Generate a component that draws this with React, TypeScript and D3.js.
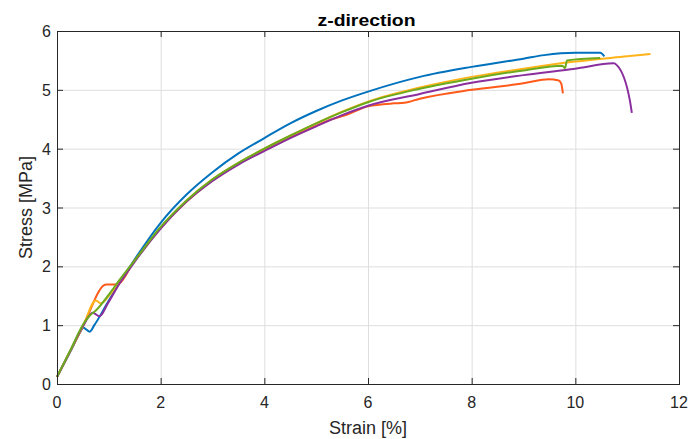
import React from 'react';
import * as d3 from 'd3';

// strain [%], stress [MPa]
const blue: [number, number][] = [
  [0, 0.12], [0.25, 0.54], [0.46, 0.9], [0.5, 0.96], [0.63, 0.89], [0.72, 1.0], [1.0, 1.42],
  [1.5, 2.12], [2.0, 2.74], [2.5, 3.22], [3.0, 3.6], [3.5, 3.92], [4.0, 4.18], [4.5, 4.43],
  [5.0, 4.64], [5.5, 4.82], [6.0, 4.97], [7.0, 5.22], [8.0, 5.39], [9.0, 5.53], [9.4, 5.59],
  [10.0, 5.63], [10.48, 5.63], [10.56, 5.57],
];
const red: [number, number][] = [
  [0, 0.12], [0.25, 0.55], [0.5, 0.98], [0.95, 1.69], [1.15, 1.69], [1.5, 2.1], [2.0, 2.65],
  [2.5, 3.1], [3.0, 3.46], [3.5, 3.74], [4.0, 3.97], [4.5, 4.19], [5.0, 4.39], [5.3, 4.5],
  [5.6, 4.58], [6.0, 4.72], [6.5, 4.77], [6.7, 4.78], [7.0, 4.85], [8.0, 5.0], [9.0, 5.11],
  [9.49, 5.18], [9.68, 5.16], [9.73, 5.1], [9.76, 4.94],
];
const yellow: [number, number][] = [
  [0, 0.12], [0.25, 0.55], [0.5, 0.98], [0.75, 1.42], [0.85, 1.37], [1.0, 1.5], [1.2, 1.74],
  [1.5, 2.09], [2.0, 2.66], [2.5, 3.12], [3.0, 3.48], [3.5, 3.76], [4.0, 4.0], [4.5, 4.22],
  [5.0, 4.43], [5.5, 4.63], [6.0, 4.8], [7.0, 5.04], [8.0, 5.22], [9.0, 5.36], [10.0, 5.48],
  [11.0, 5.57], [11.45, 5.61],
];
const purple: [number, number][] = [
  [0, 0.12], [0.25, 0.55], [0.5, 0.98], [0.69, 1.21], [0.82, 1.15], [0.98, 1.37], [1.2, 1.7],
  [1.5, 2.08], [2.0, 2.64], [2.5, 3.1], [3.0, 3.45], [3.5, 3.73], [4.0, 3.96], [4.5, 4.18],
  [5.0, 4.38], [5.5, 4.57], [6.0, 4.73], [7.0, 4.93], [8.0, 5.12], [9.0, 5.25], [10.0, 5.36],
  [10.74, 5.45], [10.8, 5.42], [11.05, 4.83], [11.09, 4.61],
];
const green: [number, number][] = [
  [0, 0.12], [0.25, 0.56], [0.53, 1.05], [0.63, 1.16], [0.75, 1.25], [1.0, 1.52], [1.2, 1.76],
  [1.5, 2.1], [2.0, 2.67], [2.5, 3.12], [3.0, 3.48], [3.5, 3.76], [4.0, 4.0], [4.5, 4.22],
  [5.0, 4.43], [5.5, 4.62], [6.0, 4.79], [7.0, 5.02], [8.0, 5.19], [9.0, 5.33], [9.75, 5.41],
  [9.8, 5.37], [9.84, 5.5], [10.48, 5.54],
];

const series = [
  { data: blue, color: '#0072BD' },
  { data: red, color: '#FF5A1A' },
  { data: yellow, color: '#FFB319' },
  { data: purple, color: '#8B2F9E' },
  { data: green, color: '#6BAA1E' },
];

const xTicks = [0, 2, 4, 6, 8, 10, 12];
const yTicks = [0, 1, 2, 3, 4, 5, 6];

const W = 689, H = 439;
const left = 57, right = 679, top = 31, bottom = 384;
const font = '"Liberation Sans", Arial, sans-serif';
const axisColor = '#262626';

export default function App() {
  const x = d3.scaleLinear().domain([0, 12]).range([left, right]);
  const y = d3.scaleLinear().domain([0, 6]).range([bottom, top]);
  const line = d3.line<[number, number]>()
    .x(d => x(d[0]))
    .y(d => y(d[1]))
    .curve(d3.curveMonotoneX);

  return (
    <div style={{ position: 'absolute', left: 0, top: 0 }}>
      <svg width={W} height={H} style={{ display: 'block', background: '#fff' }}>
        {/* grid */}
        {xTicks.slice(1, -1).map(t => (
          <line key={'gx' + t} x1={x(t) + 0.5} x2={x(t) + 0.5} y1={top} y2={bottom} stroke="#dedede" strokeWidth={1} />
        ))}
        {yTicks.slice(1, -1).map(t => (
          <line key={'gy' + t} x1={left} x2={right} y1={y(t) + 0.5} y2={y(t) + 0.5} stroke="#dedede" strokeWidth={1} />
        ))}
        {/* curves */}
        {series.map((s, i) => (
          <path key={i} d={line(s.data) || ''} fill="none" stroke={s.color} strokeWidth={2} strokeLinejoin="round" />
        ))}
        {/* box */}
        <rect x={left + 0.5} y={top + 0.5} width={right - left} height={bottom - top} fill="none" stroke={axisColor} strokeWidth={1} />
        {/* ticks */}
        {xTicks.map(t => (
          <g key={'tx' + t}>
            <line x1={x(t) + 0.5} x2={x(t) + 0.5} y1={bottom} y2={bottom - 6} stroke={axisColor} />
            <line x1={x(t) + 0.5} x2={x(t) + 0.5} y1={top} y2={top + 6} stroke={axisColor} />
            <text x={x(t)} y={408} textAnchor="middle" fontFamily={font} fontSize={16} fill={axisColor}>{t}</text>
          </g>
        ))}
        {yTicks.map(t => (
          <g key={'ty' + t}>
            <line x1={left} x2={left + 6} y1={y(t) + 0.5} y2={y(t) + 0.5} stroke={axisColor} />
            <line x1={right} x2={right - 6} y1={y(t) + 0.5} y2={y(t) + 0.5} stroke={axisColor} />
            <text x={51} y={y(t) + 6} textAnchor="end" fontFamily={font} fontSize={16} fill={axisColor}>{t}</text>
          </g>
        ))}
        {/* labels */}
        <text x={366.5} y={26} textAnchor="middle" fontFamily={font} fontSize={17} fontWeight="bold" fill="#000"
          textLength={98} lengthAdjust="spacingAndGlyphs">z-direction</text>
        <text x={(left + right) / 2} y={434} textAnchor="middle" fontFamily={font} fontSize={18} fill={axisColor}>Strain [%]</text>
        <text transform={`translate(32,${(top + bottom) / 2}) rotate(-90)`} textAnchor="middle" fontFamily={font} fontSize={18} fill={axisColor}>Stress [MPa]</text>
      </svg>
    </div>
  );
}
